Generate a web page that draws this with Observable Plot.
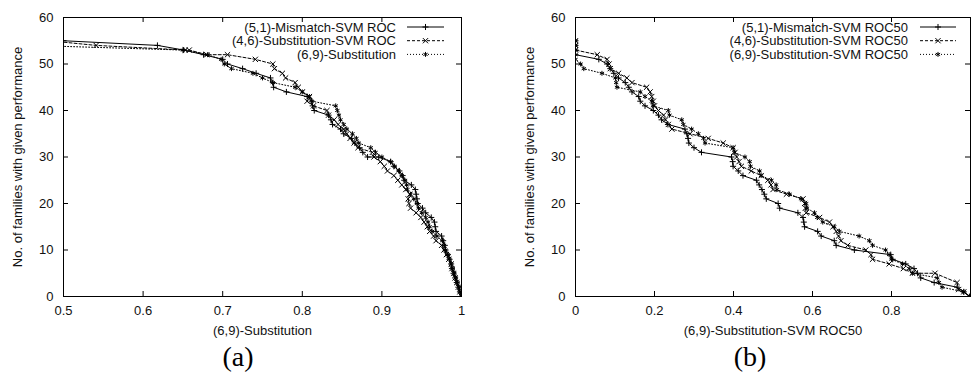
<!DOCTYPE html>
<html><head><meta charset="utf-8">
<script src="https://cdn.jsdelivr.net/npm/d3@7"></script>
<script src="https://cdn.jsdelivr.net/npm/@observablehq/plot@0.6"></script>
<style>
body{margin:0;background:#fff;}
#wrap{position:relative;width:971px;height:378px;overflow:hidden;background:#fff;}
.panel{position:absolute;top:0;}
.cap{position:absolute;top:343px;font-family:"Liberation Serif","Times New Roman",serif;font-size:28px;line-height:1;transform:translateX(-50%);color:#000;}
</style></head><body>
<div id="wrap">
  <div id="pa" class="panel" style="left:0"></div>
  <div id="pb" class="panel" style="left:485px"></div>
  <div class="cap" style="left:238px">(a)</div>
  <div class="cap" style="left:750px">(b)</div>
</div>
<script>
// ---------- shared ----------
const yTicks = [0, 10, 20, 30, 40, 50, 60];
const yLabel = "No. of families with given performance";

// ---------- panel (a) ----------
const aXTicks = [0.5, 0.6, 0.7, 0.8, 0.9, 1];
const aXLabel = "(6,9)-Substitution";
const aNames = ["(5,1)-Mismatch-SVM ROC", "(4,6)-Substitution-SVM ROC", "(6,9)-Substitution"];

const aMismatchX = [0.5,0.618,0.651,0.676,0.700,0.706,0.725,0.742,0.760,0.763,0.764,0.780,0.806,0.812,0.813,0.815,0.833,0.836,0.838,0.848,0.852,0.862,0.866,0.872,0.876,0.882,0.896,0.911,0.915,0.922,0.926,0.928,0.937,0.942,0.943,0.944,0.945,0.951,0.955,0.962,0.966,0.967,0.968,0.975,0.977,0.979,0.980,0.983,0.985,0.987,0.988,0.990,0.992,0.994,0.996,0.998,1.0];
const aMismatchY = [55,54,53,52,51,50,49,48,47,46,45,44,43,42,41,40,39,38,37,36,35,34,33,32,31,30,30,29,28,27,26,25,24,23,22,21,20,19,18,17,16,15,14,13,12,11,10,9,8,7,6,5,4,3,2,1,0];

const aSubst46X = [0.482,0.541,0.653,0.658,0.680,0.706,0.741,0.763,0.765,0.775,0.779,0.791,0.795,0.800,0.809,0.806,0.814,0.831,0.833,0.840,0.845,0.852,0.856,0.860,0.865,0.870,0.888,0.890,0.898,0.903,0.907,0.915,0.920,0.925,0.930,0.935,0.933,0.934,0.936,0.943,0.949,0.953,0.957,0.960,0.965,0.968,0.975,0.978,0.981,0.984,0.987,0.988,0.990,0.992,0.994,0.996,0.998,1.0];
const aSubst46Y = [55,54,53,53,52,52,51,50,49,48,47,46,45,44,43,42,41,40,39,38,37,36,35,34,33,32,31,30,29,28,27,26,25,24,23,22,21,20,19,18,17,16,15,14,13,12,11,10,9,8,7,6,5,4,3,2,1,0];

const aSubst69X = [0.46,0.650,0.681,0.698,0.702,0.711,0.738,0.750,0.763,0.791,0.800,0.809,0.812,0.842,0.844,0.846,0.848,0.852,0.856,0.863,0.868,0.871,0.886,0.892,0.900,0.911,0.916,0.921,0.925,0.929,0.931,0.932,0.936,0.940,0.944,0.946,0.950,0.955,0.958,0.960,0.963,0.969,0.976,0.978,0.980,0.983,0.985,0.987,0.989,0.991,0.993,0.995,0.997,0.998,1.0];
const aSubst69Y = [54,53,52,51,50,49,48,47,46,45,44,43,42,41,40,39,38,37,36,35,34,33,32,31,30,29,28,27,26,25,24,23,22,21,20,19,18,17,16,15,14,13,12,11,10,9,8,7,6,5,4,3,2,1,0];

// ---------- panel (b) ----------
const bXTicks = [0, 0.2, 0.4, 0.6, 0.8];
const bXLabel = "(6,9)-Substitution-SVM ROC50";
const bNames = ["(5,1)-Mismatch-SVM ROC50", "(4,6)-Substitution-SVM ROC50", "(6,9)-Substitution-SVM ROC50"];

const bMismatchX = [0,0,0,0,0.059,0.080,0.088,0.097,0.109,0.126,0.135,0.143,0.160,0.164,0.176,0.197,0.210,0.218,0.234,0.277,0.282,0.285,0.287,0.300,0.319,0.395,0.398,0.399,0.412,0.424,0.458,0.465,0.472,0.478,0.483,0.513,0.517,0.563,0.576,0.578,0.580,0.613,0.622,0.655,0.660,0.706,0.798,0.803,0.836,0.857,0.866,0.874,0.908,0.966,0.983,0.998];
const bMismatchY = [55,54,53,52,51,50,49,48,47,46,45,44,43,42,41,40,39,38,37,36,35,34,33,32,31,30,29,28,27,26,25,24,23,22,21,20,19,18,17,16,15,14,13,12,11,10,9,8,7,6,5,4,3,2,1,0];

const bSubst46X = [0,0,0,0.055,0.080,0.085,0.088,0.109,0.130,0.143,0.180,0.189,0.193,0.197,0.200,0.210,0.223,0.228,0.235,0.244,0.290,0.336,0.374,0.399,0.404,0.408,0.414,0.420,0.445,0.470,0.487,0.495,0.500,0.534,0.576,0.580,0.582,0.584,0.618,0.643,0.652,0.660,0.666,0.672,0.689,0.735,0.748,0.752,0.794,0.830,0.853,0.910,0.966,0.970,0.983,0.998];
const bSubst46Y = [55,54,53,52,51,50,49,48,47,46,45,44,43,42,41,40,39,38,37,36,35,34,33,32,31,30,29,28,27,26,25,24,23,22,21,20,19,18,17,16,15,14,13,12,11,10,9,8,7,6,5,5,3,1.5,1,0];

const bSubst69X = [0,0,0,0,0,0.013,0.021,0.067,0.101,0.103,0.105,0.164,0.176,0.193,0.196,0.235,0.238,0.269,0.273,0.294,0.311,0.324,0.328,0.399,0.402,0.429,0.441,0.443,0.466,0.470,0.496,0.508,0.510,0.542,0.571,0.584,0.586,0.605,0.612,0.626,0.655,0.668,0.718,0.744,0.752,0.785,0.794,0.800,0.828,0.845,0.853,0.916,0.920,0.928,0.983,0.998];
const bSubst69Y = [55,54,53,52,51,50,49,48,47,46,45,44,43,42,41,40,39,38,37,36,35,34,33,32,31,30,29,28,27,26,25,24,23,22,21,20,19,18,17,16,15,14,13,12,11,10,9,8,7,6,5,4,3,2,1,0];

// ---------- styles per series ----------
const styles = [
  {dash: null, symbol: "plus", r: 2.1},
  {dash: "3,2", symbol: "times", r: 2.5},
  {dash: "1,2", symbol: "asterisk", r: 2.3}
];

function rows(xs, ys) { return xs.map((x, i) => ({x, y: ys[i]})); }

function panel(el, cfg) {
  const height = 340, marginTop = 17, marginBottom = 44;
  const ph = height - marginTop - marginBottom;
  const pw = cfg.width - cfg.marginLeft - cfg.marginRight;
  const fmt = d3.format("~g");
  const marks = [
    Plot.frame({stroke: "#000", strokeWidth: 1}),
    Plot.tickX(cfg.tickMarksX, {x: d => d, insetTop: ph - 5, stroke: "#000"}),
    Plot.tickX(cfg.tickMarksX, {x: d => d, insetBottom: ph - 5, stroke: "#000"}),
    Plot.tickY(yTicks, {y: d => d, insetRight: pw - 5, stroke: "#000"}),
    Plot.tickY(yTicks, {y: d => d, insetLeft: pw - 5, stroke: "#000"})
  ];
  cfg.series.forEach((s, i) => {
    const st = styles[i];
    const data = rows(s[0], s[1]);
    marks.push(Plot.line(data, {x: "x", y: "y", stroke: "#000", strokeWidth: 1,
      strokeDasharray: st.dash || undefined, clip: true}));
    marks.push(Plot.dot(data, {x: "x", y: "y", symbol: st.symbol, r: st.r,
      stroke: "#000", strokeWidth: 1, clip: true}));
  });
  marks.push(Plot.text([yLabel], {text: d => d, frameAnchor: "left", dx: -46, rotate: -90,
    textAnchor: "middle", lineAnchor: "middle", fill: "#111"}));
  marks.push(Plot.text([cfg.xLabel], {text: d => d, frameAnchor: "bottom", dy: 34,
    textAnchor: "middle", lineAnchor: "middle", fill: "#111"}));

  const chart = Plot.plot({
    width: cfg.width, height, marginLeft: cfg.marginLeft, marginRight: cfg.marginRight,
    marginTop, marginBottom,
    style: {fontFamily: "'Liberation Sans', Arial, sans-serif", fontSize: "13px", color: "#111",
      background: "transparent", overflow: "visible"},
    x: {domain: cfg.xDomain, ticks: cfg.xTicks, tickSize: 0, tickPadding: 9, tickFormat: fmt, label: null},
    y: {domain: [0, 60], ticks: yTicks, tickSize: 0, tickPadding: 10, label: null},
    marks
  });

  // legend (top-right inside frame)
  const svg = d3.select(chart);
  const right = cfg.width - cfg.marginRight;
  const g = svg.append("g").attr("font-family", "'Liberation Sans', Arial, sans-serif").attr("font-size", 13);
  cfg.names.forEach((name, i) => {
    const st = styles[i];
    const y = marginTop + 10 + i * 13.7;
    g.append("text").attr("x", right - cfg.leg.text).attr("y", y).attr("dy", "0.35em")
      .attr("text-anchor", "end").attr("fill", "#111").text(name);
    g.append("line").attr("x1", right - cfg.leg.l1).attr("x2", right - cfg.leg.l2)
      .attr("y1", y).attr("y2", y).attr("stroke", "#000").attr("stroke-width", 1)
      .attr("stroke-dasharray", st.dash);
    const sym = {plus: d3.symbolPlus, times: d3.symbolTimes, asterisk: d3.symbolAsterisk}[st.symbol];
    g.append("path").attr("d", d3.symbol(sym, Math.PI * st.r * st.r)())
      .attr("transform", `translate(${right - (cfg.leg.l1 + cfg.leg.l2) / 2},${y})`)
      .attr("fill", "none").attr("stroke", "#000").attr("stroke-width", 1);
  });
  document.getElementById(el).appendChild(chart);
}

panel("pa", {
  width: 485, marginLeft: 63, marginRight: 24, xDomain: [0.5, 1],
  xTicks: aXTicks, tickMarksX: aXTicks, xLabel: aXLabel, names: aNames,
  series: [[aMismatchX, aMismatchY], [aSubst46X, aSubst46Y], [aSubst69X, aSubst69Y]],
  leg: {text: 65, l1: 54, l2: 17}
});
panel("pb", {
  width: 486, marginLeft: 90, marginRight: 1, xDomain: [0, 1],
  xTicks: bXTicks, tickMarksX: bXTicks, xLabel: bXLabel, names: bNames,
  series: [[bMismatchX, bMismatchY], [bSubst46X, bSubst46Y], [bSubst69X, bSubst69Y]],
  leg: {text: 62, l1: 50, l2: 14}
});
</script>
</body></html>
